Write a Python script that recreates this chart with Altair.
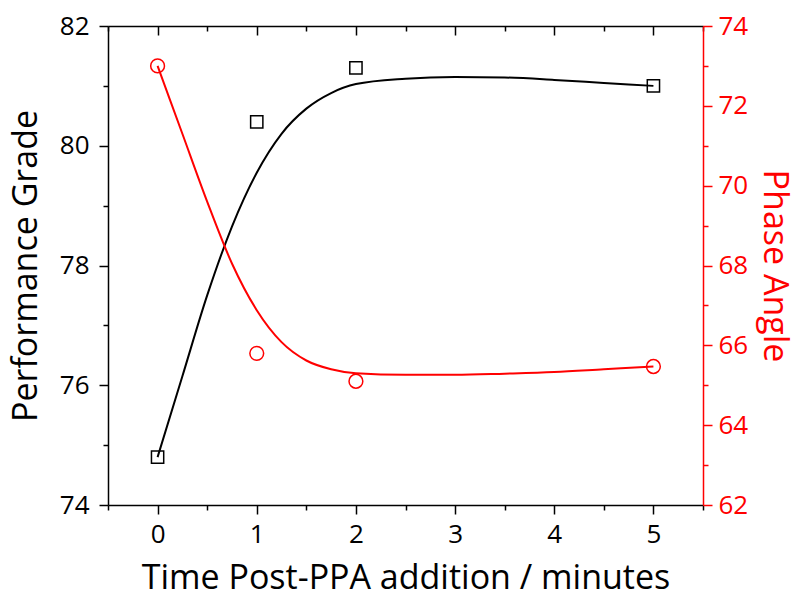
import altair as alt
import pandas as pd

# measured points
time_min = [0, 1, 2, 5]
performance_grade = [74.8, 80.4, 81.3, 81.0]
phase_angle = [73.0, 65.8, 65.1, 65.47]

# fitted curves
fit_time = [0, 0.25, 0.5, 0.75, 1.0, 1.25, 1.5, 1.75, 2.0, 2.5, 3.0, 3.5, 4.0, 4.5, 5.0]
pg_fit = [74.8, 76.15, 77.5, 78.65, 79.55, 80.2, 80.62, 80.88, 81.03, 81.12, 81.15, 81.14, 81.10, 81.05, 81.0]
pa_fit = [73.0, 71.3, 69.6, 68.05, 66.88, 66.08, 65.62, 65.4, 65.3, 65.26, 65.26, 65.29, 65.33, 65.40, 65.47]

# axis ticks
x_ticks = [-0.5, 0, 0.5, 1, 1.5, 2, 2.5, 3, 3.5, 4, 4.5, 5, 5.5]
x_major = [0, 1, 2, 3, 4, 5]
x_minor = [-0.5, 0.5, 1.5, 2.5, 3.5, 4.5, 5.5]
pg_ticks = [74, 75, 76, 77, 78, 79, 80, 81, 82]
pa_ticks = [62, 63, 64, 65, 66, 67, 68, 69, 70, 71, 72, 73, 74]

pts = pd.DataFrame({"t": time_min, "pg": performance_grade, "pa": phase_angle})
fit = pd.DataFrame({"t": fit_time, "pg": pg_fit, "pa": pa_fit})

FONT = "Open Sans"
XDOM = [-0.5, 5.5]
RED = "#ff0000"

x_bottom_axis = alt.Axis(
    orient="bottom", values=x_ticks,
    labelExpr="datum.value % 1 === 0 ? format(datum.value, 'd') : ''",
    tickSize={"condition": {"test": "datum.value % 1 === 0", "value": 9}, "value": 5},
    grid=False, domainColor="black", tickColor="black", domainWidth=1.5, tickWidth=1.5,
    labelFont=FONT, labelFontSize=26, labelColor="black", labelPadding=7,
    labelOverlap=False, labelFlush=False,
    title="Time Post-PPA addition / minutes", titleFont=FONT, titleFontSize=34,
    titleFontWeight="normal", titleColor="black", titlePadding=14,
)

y_left_axis = alt.Axis(
    orient="left", values=pg_ticks,
    labelExpr="datum.value % 2 === 0 ? format(datum.value, 'd') : ''",
    tickSize={"condition": {"test": "datum.value % 2 === 0", "value": 9}, "value": 5},
    grid=False, domainColor="black", tickColor="black", domainWidth=1.5, tickWidth=1.5,
    labelFont=FONT, labelFontSize=26, labelColor="black", labelPadding=10,
    labelOverlap=False, labelFlush=False,
    title="Performance Grade", titleFont=FONT, titleFontSize=34,
    titleFontWeight="normal", titleColor="black", titlePadding=16,
)

y_right_axis = alt.Axis(
    orient="right", values=pa_ticks,
    labelExpr="datum.value % 2 === 0 ? format(datum.value, 'd') : ''",
    tickSize={"condition": {"test": "datum.value % 2 === 0", "value": 9}, "value": 5},
    grid=False, domainColor=RED, tickColor=RED, domainWidth=1.5, tickWidth=1.5,
    labelFont=FONT, labelFontSize=26, labelColor=RED, labelPadding=6,
    labelOverlap=False, labelFlush=False,
    title="Phase Angle", titleFont=FONT, titleFontSize=34,
    titleFontWeight="normal", titleColor=RED, titlePadding=9,
)

xs = alt.Scale(domain=XDOM, nice=False, zero=False)
ys_left = alt.Scale(domain=[74, 82], nice=False, zero=False)
ys_right = alt.Scale(domain=[62, 74], nice=False, zero=False)

black_line = alt.Chart(fit).mark_line(color="black", strokeWidth=2, interpolate="monotone").encode(
    x=alt.X("t:Q", scale=xs, axis=x_bottom_axis),
    y=alt.Y("pg:Q", scale=ys_left, axis=y_left_axis),
)
black_pts = alt.Chart(pts).mark_point(shape="square", filled=False, size=150, strokeWidth=1.5, color="black", opacity=1).encode(
    x=alt.X("t:Q", scale=xs, axis=x_bottom_axis),
    y=alt.Y("pg:Q", scale=ys_left, axis=y_left_axis),
)

red_line = alt.Chart(fit).mark_line(color=RED, strokeWidth=2, interpolate="monotone").encode(
    x=alt.X("t:Q", scale=xs, axis=None),
    y=alt.Y("pa:Q", scale=ys_right, axis=y_right_axis),
)
red_pts = alt.Chart(pts).mark_point(shape="circle", filled=False, size=190, strokeWidth=1.5, color=RED, opacity=1).encode(
    x=alt.X("t:Q", scale=xs, axis=None),
    y=alt.Y("pa:Q", scale=ys_right, axis=y_right_axis),
)


def top_layer(axis):
    return alt.Chart(pts).mark_point(opacity=0).encode(
        x=alt.X("t:Q", scale=xs, axis=axis),
        y=alt.Y("pg:Q", scale=ys_left, axis=None),
    )


top_domain = top_layer(alt.Axis(orient="top", title=None, labels=False, ticks=False, grid=False,
                                domain=True, domainColor="black", domainWidth=1.5))
top_major = top_layer(alt.Axis(orient="top", title=None, labels=False, ticks=True, grid=False,
                               domain=False, values=x_major, tickSize=9, tickWidth=1.5,
                               tickColor="black", offset=-9))
top_minor = top_layer(alt.Axis(orient="top", title=None, labels=False, ticks=True, grid=False,
                               domain=False, values=x_minor, tickSize=5, tickWidth=1.5,
                               tickColor="black", offset=-5))

chart = alt.layer(
    alt.layer(black_line, black_pts),
    alt.layer(red_line, red_pts),
    top_domain, top_major, top_minor,
).resolve_scale(
    x="independent", y="independent"
).properties(
    width=595, height=479,
    autosize=alt.AutoSizeParams(type="none"),
    padding={"left": 108, "top": 26, "right": 93, "bottom": 92},
    background="white",
).configure_view(stroke=None)

chart.save("out.html", embed_options={"renderer": "svg", "actions": False})
